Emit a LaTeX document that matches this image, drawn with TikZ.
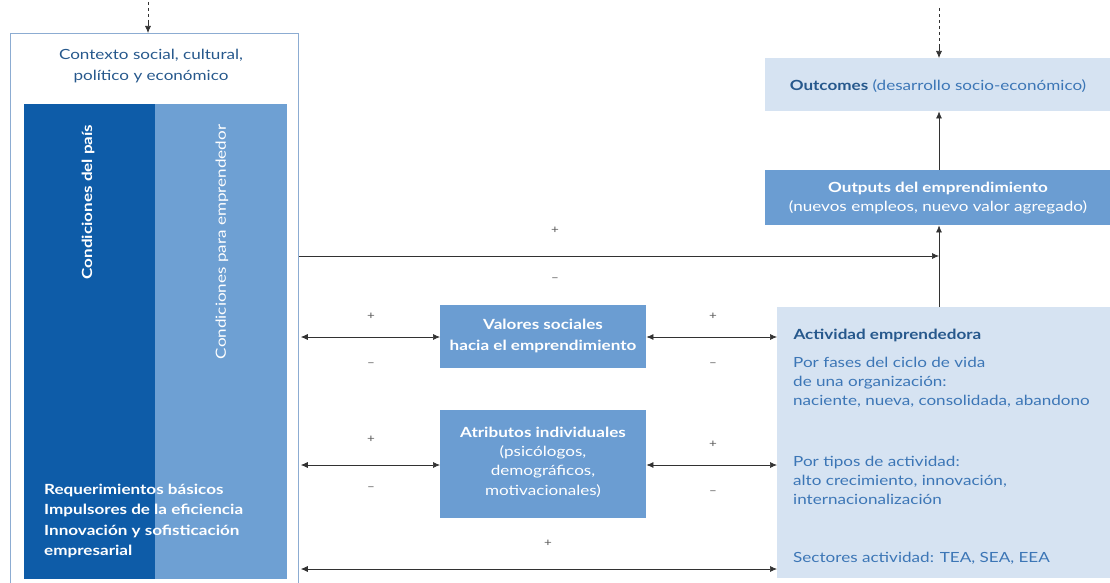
\documentclass[tikz,border=0pt]{standalone}
\usepackage{fontspec}
\setmainfont{Lato}[FakeStretch=1.22]
\usetikzlibrary{arrows.meta}
\definecolor{dkblue}{RGB}{14,92,168}
\definecolor{mdblue}{RGB}{110,160,211}
\definecolor{bxblue}{RGB}{107,157,210}
\definecolor{ltblue}{RGB}{214,227,242}
\definecolor{ttblue}{RGB}{38,88,140}
\definecolor{txblue}{RGB}{60,118,182}
\definecolor{frame}{RGB}{140,172,210}
\definecolor{ln}{RGB}{50,50,50}
\tikzset{
  panel/.style={anchor=north west, inner sep=0pt, draw=none},
  wtext/.style={text=white, font=\fontsize{14}{19}\selectfont, align=center},
  conn/.style={draw=ln, line width=0.7pt},
  tip/.style={-{Latex[length=7pt,width=6pt]}},
  dtip/.style={{Latex[length=7pt,width=6pt]}-{Latex[length=7pt,width=6pt]}},
  sign/.style={text=ln!80, font=\fontsize{11}{11}\selectfont, inner sep=0pt},
}
\begin{document}
\begin{tikzpicture}[x=1pt,y=-1pt]
\useasboundingbox (0,0) rectangle (1110,583);
% left context box
\node[panel, draw=frame, line width=0.8pt, minimum width=288pt, minimum height=552pt] (ctx) at (10,33) {};
\node[text=ttblue, font=\fontsize{14}{21}\selectfont, align=center] (ctxt) at (151,66) {Contexto social, cultural,\\ político y económico};
\node[panel, fill=dkblue, minimum width=131pt, minimum height=475pt] (pais) at (24,104) {};
\node[panel, fill=mdblue, minimum width=132pt, minimum height=475pt] (emp) at (155,104) {};
\node[wtext, rotate=90, font=\bfseries\fontsize{14}{15}\selectfont] (paist) at (88,202) {Condiciones del país};
\node[wtext, rotate=90] (empt) at (222,242) {Condiciones para emprendedor};
\node[anchor=north west, text=white, align=left, font=\bfseries\fontsize{14}{20.3}\selectfont, inner sep=0pt] (reqt) at (44,484) {Requerimientos básicos\\ Impulsores de la eficiencia\\ Innovación y sofisticación\\ empresarial};
% right boxes
\node[panel, fill=ltblue, minimum width=345pt, minimum height=53pt] (outc) at (765,58) {};
\node[text=txblue, font=\fontsize{14}{15}\selectfont] (outct) at (938,86) {\textcolor{ttblue}{\bfseries Outcomes} (desarrollo socio-económico)};
\node[panel, fill=bxblue, minimum width=345pt, minimum height=55pt] (outp) at (765,170) {};
\node[wtext, font=\fontsize{14}{19}\selectfont] (outpt) at (938,198) {\textbf{Outputs del emprendimiento}\\ (nuevos empleos, nuevo valor agregado)};
\node[panel, fill=ltblue, minimum width=333pt, minimum height=271pt] (act) at (777,307) {};
\node[anchor=west, text=ttblue, font=\bfseries\fontsize{14}{15}\selectfont] (actt) at (790,335) {Actividad emprendedora};
\node[anchor=north west, inner sep=0pt, text=txblue, align=left, font=\fontsize{14}{19.2}\selectfont] (fases) at (793,357) {Por fases del ciclo de vida\\ de una organización:\\ naciente, nueva, consolidada, abandono};
\node[anchor=north west, inner sep=0pt, text=txblue, align=left, font=\fontsize{14}{19.2}\selectfont] (tipos) at (793,456) {Por tipos de actividad:\\ alto crecimiento, innovación,\\ internacionalización};
\node[anchor=west, inner sep=0pt, text=txblue, font=\fontsize{14}{15}\selectfont] (sect) at (793,558) {Sectores actividad: TEA, SEA, EEA};
% middle boxes
\node[panel, fill=bxblue, minimum width=206pt, minimum height=63pt] (val) at (440,305) {};
\node[wtext, font=\bfseries\fontsize{14}{21.5}\selectfont] (valt) at (543,336) {Valores sociales\\ hacia el emprendimiento};
\node[panel, fill=bxblue, minimum width=206pt, minimum height=108pt] (atr) at (440,410) {};
\node[wtext, font=\fontsize{14}{19.4}\selectfont] (atrt) at (543,462) {\textbf{Atributos individuales}\\ (psicólogos,\\ demográficos,\\ motivacionales)};
% coordinates
\coordinate (inL) at (148,2);
\coordinate (inR) at (939,8);
\coordinate (spine) at (939,256);
% connectors
\draw[conn, dashed] (inL) -- (148,22);
\draw[conn, tip] (148,20) -- (ctx.north -| inL);
\draw[conn, dashed] (inR) -- (939,46);
\draw[conn, tip] (939,44) -- (outc.north -| inR);
\draw[conn, tip] (outp.north -| inR) -- (outc.south -| inR);
\draw[conn, tip] (act.north -| inR) -- (outp.south -| inR);
\draw[conn, tip] (ctx.east |- spine) -- (spine);
\draw[conn, dtip, shorten <=2pt] (ctx.east |- 0,337) -- (val.west |- 0,337);
\draw[conn, dtip] (val.east |- 0,337) -- (act.west |- 0,337);
\draw[conn, dtip, shorten <=2pt] (ctx.east |- 0,465) -- (atr.west |- 0,465);
\draw[conn, dtip] (atr.east |- 0,465) -- (act.west |- 0,465);
\draw[conn, dtip, shorten <=2pt] (ctx.east |- 0,569) -- (act.west |- 0,569);
% signs
\node[sign] (s1) at (555,230) {+};
\node[sign] (s2) at (555,280) {–};
\node[sign] (s3) at (371,316) {+};
\node[sign] (s4) at (371,365) {–};
\node[sign] (s5) at (713,316) {+};
\node[sign] (s6) at (713,365) {–};
\node[sign] (s7) at (371,439) {+};
\node[sign] (s8) at (371,489) {–};
\node[sign] (s9) at (713,444) {+};
\node[sign] (s10) at (713,493) {–};
\node[sign] (s11) at (548,543) {+};
\end{tikzpicture}
\end{document}
